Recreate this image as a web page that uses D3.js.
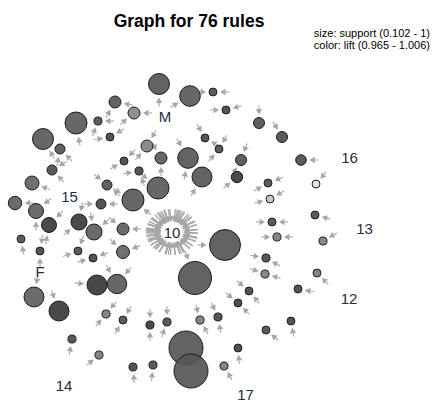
<!DOCTYPE html>
<html>
<head>
<meta charset="utf-8">
<script src="https://cdn.jsdelivr.net/npm/d3@7"></script>
<style>
html,body{margin:0;padding:0;background:#fff;}
svg{display:block;font-family:"Liberation Sans",Arial,Helvetica,sans-serif;}
</style>
</head>
<body>
<svg id="chart" width="433" height="403"></svg>
<script>
// ---- data: rule vertices (graph layout coordinates), support, lift ----
const ruleX = [-1.1, 2.0, 4.3, 5.6, -5.5, -3.6, -9.4, -7.2, -6.0, -12.7,
  -11.0, -2.3, 3.5, 8.9, 11.2, 4.9, -0.9, 1.8, -4.6, -3.1,
  3.2, -11.8, -13.8, -6.3, -1.2, -15.5, -6.9, -3.7, -13.4, -9.1,
  -12.1, -7.6, -4.7, -14.9, -13.0, -9.2, -7.7, -4.7, 5.5, 2.5,
  7.1, 6.7, 13.1, 9.8, 14.6, 10.0, 10.2, 14.5, 10.7, 15.3,
  9.6, -7.3, -5.3, 9.5, 14.7, 12.8, 7.9, 6.8, -13.6, -11.1,
  -6.4, -4.7, -2.0, -0.3, 3.0, 4.8, 12.1, 9.6, -9.8, 1.6,
  6.8, -7.1, -3.7, -1.7, 2.1, 5.4];
const ruleY = [15.6, 14.4, 14.8, 13.0, 13.8, 12.7, 11.7, 11.9, 10.3, 10.1,
  9.1, 9.4, 10.2, 11.7, 10.3, 9.1, 8.2, 8.2, 7.9, 6.9,
  6.3, 7.0, 5.7, 5.5, 5.2, 3.7, 3.6, 4.0, 2.9, 1.8,
  1.5, 0.8, 1.1, 0.1, -1.1, -1.1, -1.8, -1.2, -0.5, -3.8,
  8.0, 6.3, 8.0, 5.7, 5.6, 4.1, 1.8, 2.5, 0.3, -0.1,
  -1.8, -4.5, -4.4, -3.4, -3.3, -4.9, -5.1, -6.3, -5.7, -7.1,
  -7.4, -8.0, -8.5, -8.2, -8.0, -7.7, -8.1, -9.0, -9.9, -10.8,
  -10.8, -11.5, -12.7, -12.5, -13.1, -12.6];
const support = [0.554, 0.541, 0.105, 0.108, 0.246, 0.246, 0.589, 0.110, 0.108, 0.554,
  0.177, 0.246, 0.108, 0.212, 0.212, 0.106, 0.246, 0.541, 0.108, 0.110,
  0.520, 0.177, 0.314, 0.177, 0.589, 0.294, 0.177, 0.589, 0.349, 0.383,
  0.349, 0.383, 0.246, 0.106, 0.108, 0.106, 0.108, 0.280, 0.897, 0.966,
  0.212, 0.225, 0.198, 0.108, 0.106, 0.108, 0.108, 0.106, 0.110, 0.110,
  0.110, 0.520, 0.500, 0.110, 0.108, 0.108, 0.106, 0.106, 0.520, 0.520,
  0.110, 0.108, 0.110, 0.110, 0.112, 0.110, 0.106, 0.106, 0.110, 1.000,
  0.108, 0.110, 0.110, 0.110, 1.000, 0.110];
const lift = [0.997, 0.996, 0.999, 1.000, 0.997, 0.986, 0.996, 0.999, 1.001, 0.996,
  0.998, 0.987, 1.000, 0.998, 0.999, 0.999, 0.996, 0.997, 1.000, 1.001,
  0.997, 0.999, 0.994, 0.998, 0.996, 0.995, 1.001, 0.996, 0.995, 1.003,
  1.003, 0.995, 0.995, 0.998, 1.001, 0.999, 1.001, 0.994, 0.997, 0.997,
  0.998, 1.003, 0.999, 0.999, 0.965, 0.972, 0.999, 0.999, 0.988, 0.988,
  1.000, 1.004, 0.996, 0.988, 0.989, 1.000, 1.001, 1.002, 0.995, 1.003,
  0.988, 0.999, 1.003, 0.999, 0.988, 1.000, 1.001, 0.999, 1.000, 0.997,
  1.002, 0.989, 1.001, 0.999, 0.997, 0.989];
// direction (degrees) of the edge ends attached to each rule vertex
const edgeAngles = [[90],[150],[0,180],[180,-15],[10,120],[0,140],[80],[0,110],[-30,170],[60],
  [45,100],[-60,130],[-120,30],[-90],[-120],[-60,130],[-120,90],[100,-120],[150,-45],[170,70],
  [120],[45,-30],[20],[-140,40],[-140],[0],[180,0],[-150,40],[-40,90],[-80,140],
  [-45,100],[-100,-40],[0,-140],[80],[90,-80],[160,-70],[165,-20],[-135,-20],[180],[-110],
  [-70,120],[140],[0],[150,-20],[-50],[165,-30],[180,0],[15],[180,0],[-30],
  [-170,30],[-175],[-120,-50],[-160,15],[45],[10],[-140,50],[-140,45],[-80],[-110],
  [-50,130],[-60,120],[-90,90],[-90,110],[-105,60],[-115,80],[80],[40],[100],[],
  [85],[140],[85],[95],[],[60]];
// item vertices (labels)
const itemLabels = ["M", "15", "10", "16", "13", "F", "12", "14", "17"];
const itemX = [-0.5, -10.05, 0.2, 17.95, 19.45, -13.0, 17.9, -10.6, 7.55];
const itemY = [12.4, 4.4, 0.8, 8.3, 1.15, -3.15, -5.85, -14.55, -15.45];
const hubItem = "10";   // item that is the rhs of the rules
const titleText = "Graph for 76 rules";
const legendLines = ["size: support (0.102 - 1)", "color: lift (0.965 - 1.006)"];
const supportRange = [0.102, 1];
const liftRange = [0.965, 1.006];

// ---- scales ----
const W = 433, H = 403;
const x = d3.scaleLinear().domain([-17, 26.3]).range([0, W]);
const y = d3.scaleLinear().domain([-16.3, 24]).range([H, 0]);
const rScale = d3.scaleLinear().domain(supportRange).range([3.9, 17]);
const cScale = d3.scaleLinear().domain(liftRange).range(["#e2e2e2", "#2e2e2e"]);

const svg = d3.select("#chart");
const rules = ruleX.map((v, i) => ({i, x: x(v), y: y(ruleY[i]), r: rScale(support[i]), c: cScale(lift[i]), a: edgeAngles[i]}));
const items = itemLabels.map((l, i) => ({label: l, x: x(itemX[i]), y: y(itemY[i])}));

const edgeColor = "#a6a6a6";
const gEdges = svg.append("g");

function arrow(g, cx, cy, ang, tip, base, tail) {
  const ux = Math.cos(ang), uy = Math.sin(ang);
  const px = -uy, py = ux;
  const hw = 3.2;
  g.append("line")
    .attr("x1", cx + ux * base).attr("y1", cy + uy * base)
    .attr("x2", cx + ux * tail).attr("y2", cy + uy * tail)
    .attr("stroke", edgeColor).attr("stroke-width", 1.1);
  const tx = cx + ux * tip, ty = cy + uy * tip;
  const bx = cx + ux * base, by = cy + uy * base;
  g.append("path")
    .attr("d", `M${tx},${ty}L${bx + px * hw},${by + py * hw}L${bx - px * hw},${by - py * hw}Z`)
    .attr("fill", edgeColor);
}

// edge ends at rule vertices
rules.forEach(d => {
  d.a.forEach(deg => {
    const ang = deg * Math.PI / 180;
    arrow(gEdges, d.x, d.y, ang, d.r + 3, d.r + 8.5, d.r + 12);
  });
});

// edge ends converging on the hub item
const hub = items.find(d => d.label === hubItem);
rules.forEach(d => {
  const ang = Math.atan2(d.y - hub.y, d.x - hub.x);
  const ux = Math.cos(ang), uy = Math.sin(ang);
  const ex = (rx, ry) => [hub.x + ux * rx, hub.y + uy * ry];
  const [tx, ty] = ex(11, 10), [bx, by] = ex(17.5, 15.5), [ox, oy] = ex(26, 23);
  const px = -uy, py = ux, hw = 2.8;
  gEdges.append("line").attr("x1", bx).attr("y1", by).attr("x2", ox).attr("y2", oy)
    .attr("stroke", edgeColor).attr("stroke-width", 1.3);
  gEdges.append("path")
    .attr("d", `M${tx},${ty}L${bx + px * hw},${by + py * hw}L${bx - px * hw},${by - py * hw}Z`)
    .attr("fill", edgeColor);
});

// rule vertices
svg.append("g").selectAll("circle").data(rules).join("circle")
  .attr("cx", d => d.x).attr("cy", d => d.y).attr("r", d => d.r)
  .attr("fill", d => d.c).attr("fill-opacity", 0.92)
  .attr("stroke", "#1e1e1e").attr("stroke-width", 1);

// item labels
svg.append("g").selectAll("text").data(items).join("text")
  .attr("x", d => d.x).attr("y", d => d.y)
  .attr("text-anchor", "middle").attr("dominant-baseline", "central")
  .attr("font-size", 15).attr("fill", "#1f2c44")
  .text(d => d.label);

// title and legend
svg.append("text").attr("x", 189).attr("y", 27).attr("text-anchor", "middle")
  .attr("font-size", 17.5).attr("font-weight", "bold").attr("fill", "#000").text(titleText);
svg.append("g").selectAll("text").data(legendLines).join("text")
  .attr("x", 430).attr("y", (d, i) => 37 + i * 11.5).attr("text-anchor", "end")
  .attr("font-size", 11).attr("fill", "#000").text(d => d);
</script>
</body>
</html>
